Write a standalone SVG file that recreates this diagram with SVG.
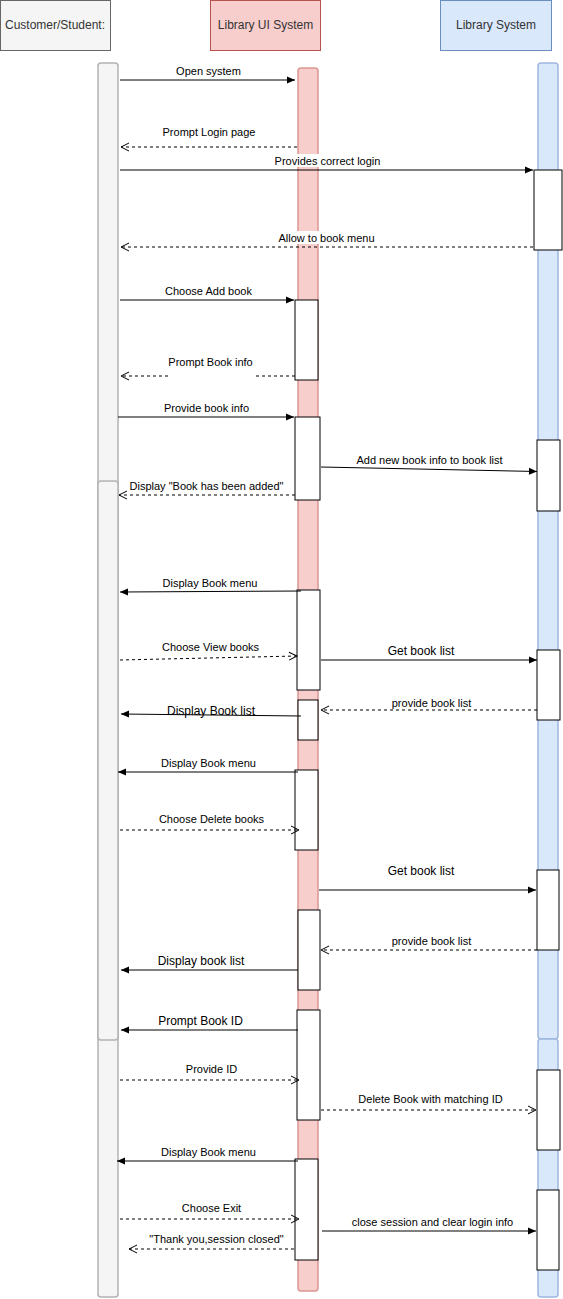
<svg xmlns="http://www.w3.org/2000/svg" width="563" height="1299" viewBox="0 0 563 1299">
<style>
.hdr{font-family:"Liberation Sans",Arial,sans-serif;font-size:12px;fill:#333;text-anchor:middle}
.lbl{font-family:"Liberation Sans",Arial,sans-serif;font-size:11px;fill:#000;text-anchor:middle}
.lbl12{font-family:"Liberation Sans",Arial,sans-serif;font-size:12px;fill:#000;text-anchor:middle}
.act{fill:#fff;stroke:#000;stroke-width:1}
.cust{fill:#f5f5f5;stroke:#666}
.custl{fill:#f5f5f5;stroke:#b3b3b3;stroke-width:1.5}
.ui{fill:#f8cecc;stroke:#b85450}
.uil{fill:#f8cecc;stroke:#d99693;stroke-width:1.5}
.lib{fill:#dae8fc;stroke:#6c8ebf}
.libl{fill:#dae8fc;stroke:#9fb7dd;stroke-width:1.5}
.sync{fill:none;stroke:#000;stroke-width:1;marker-end:url(#block)}
.ret{fill:none;stroke:#000;stroke-width:1;stroke-dasharray:3,3;marker-end:url(#open)}
</style>
<defs>
<marker id="block" markerWidth="10" markerHeight="10" refX="8" refY="4" orient="auto" markerUnits="userSpaceOnUse" overflow="visible">
<path d="M0,0.5 L8,4 L0,7.5 z" fill="#000"/>
</marker>
<marker id="open" markerWidth="10" markerHeight="10" refX="8" refY="4" orient="auto" markerUnits="userSpaceOnUse" overflow="visible">
<path d="M0,0 L8,4 L0,8" fill="none" stroke="#000" stroke-width="1"/>
</marker>
</defs>
<rect width="563" height="1299" fill="#fff"/>

<g id="customer">
<rect class="cust" x="0.5" y="0.5" width="110" height="50"/>
<text class="hdr" x="55" y="29">Customer/Student:</text>
<rect class="custl" x="98" y="63" width="20" height="1234" rx="3"/>
<rect class="custl" x="98" y="481" width="20" height="559" rx="3"/>
</g>
<g id="ui">
<rect class="ui" x="210.5" y="0.5" width="110" height="50"/>
<text class="hdr" x="265.5" y="29">Library UI System</text>
<rect class="uil" x="298" y="68" width="20" height="1223" rx="3"/>
</g>
<g id="library">
<rect class="lib" x="440.5" y="0.5" width="111" height="50"/>
<text class="hdr" x="496" y="29">Library System</text>
<rect class="libl" x="538" y="63" width="20" height="976" rx="3"/>
<rect class="libl" x="538" y="1039" width="20" height="258" rx="3"/>
</g>

<g id="activations">
<rect id="l1" class="act" x="534" y="170" width="28" height="80"/>
<rect id="u1" class="act" x="295" y="300" width="23" height="80"/>
<rect id="u2" class="act" x="295" y="417" width="25" height="83"/>
<rect id="l2" class="act" x="537" y="440" width="23" height="71"/>
<rect id="u3" class="act" x="297" y="590" width="23" height="100"/>
<rect id="l3" class="act" x="537" y="650" width="23" height="70"/>
<rect id="u4" class="act" x="298" y="700" width="20" height="40"/>
<rect id="u5" class="act" x="295" y="770" width="23" height="80"/>
<rect id="l4" class="act" x="537" y="870" width="22" height="80"/>
<rect id="u6" class="act" x="298" y="910" width="22" height="80"/>
<rect id="u7" class="act" x="297" y="1010" width="23" height="110"/>
<rect id="l5" class="act" x="537" y="1070" width="23" height="80"/>
<rect id="u8" class="act" x="295" y="1159" width="23" height="101"/>
<rect id="l6" class="act" x="537" y="1190" width="22" height="80"/>
</g>

<g id="connectors">
<path class="sync" d="M120,80 L295,80"/>
<path class="ret" d="M297,147 L121,147"/>
<path class="sync" d="M120,170 L533,170"/>
<path class="ret" d="M533,247 L121,247"/>
<path class="sync" d="M120,300 L294,300"/>
<path class="ret" d="M295,376 L253,376 M168,376 L121,376"/>
<path class="sync" d="M118,417 L294,417"/>
<path class="sync" d="M321,467 L537,471.5"/>
<path class="ret" d="M295,495 L119,495"/>
<path class="sync" d="M301,591 L120,592"/>
<path class="ret" d="M120,660 L297,656"/>
<path class="sync" d="M321,660 L537,660"/>
<path class="ret" d="M537,710 L321,710"/>
<path class="sync" d="M301,716 L121,714"/>
<path class="sync" d="M298,772 L118,772"/>
<path class="ret" d="M120,830 L299,830"/>
<path class="sync" d="M319,890 L536,890"/>
<path class="ret" d="M537,950 L321,950"/>
<path class="sync" d="M298,970 L121,970"/>
<path class="sync" d="M298,1030 L121,1030"/>
<path class="ret" d="M120,1080 L299,1080"/>
<path class="ret" d="M321,1110 L536,1110"/>
<path class="sync" d="M298,1161 L117,1161"/>
<path class="ret" d="M120,1219 L299,1219"/>
<path class="sync" d="M322,1231 L536,1231"/>
<path class="ret" d="M294,1249 L129,1249"/>
</g>

<g id="labels">
<text class="lbl" x="208.5" y="75">Open system</text>
<text class="lbl" x="209" y="136">Prompt Login page</text>
<rect x="274" y="154" width="107" height="13" fill="#fff"/>
<text class="lbl" x="327.5" y="165">Provides correct login</text>
<rect x="278" y="231" width="97" height="13" fill="#fff"/>
<text class="lbl" x="326.5" y="242">Allow to book menu</text>
<text class="lbl" x="208.5" y="295">Choose Add book</text>
<text class="lbl" x="210.5" y="366">Prompt Book info</text>
<text class="lbl" x="206.5" y="412">Provide book info</text>
<text class="lbl" x="429.5" y="464">Add new book info to book list</text>
<text class="lbl" x="206.5" y="490">Display "Book has been added"</text>
<text class="lbl" x="210" y="587">Display Book menu</text>
<text class="lbl" x="210.5" y="651">Choose View books</text>
<text class="lbl12" x="421" y="655">Get book list</text>
<text class="lbl" x="431.5" y="707">provide book list</text>
<text class="lbl12" x="211" y="715">Display Book list</text>
<text class="lbl" x="208.5" y="767">Display Book menu</text>
<text class="lbl" x="211.5" y="823">Choose Delete books</text>
<text class="lbl12" x="421" y="875">Get book list</text>
<text class="lbl" x="431.5" y="945">provide book list</text>
<text class="lbl12" x="201" y="965">Display book list</text>
<text class="lbl12" x="200.5" y="1025">Prompt Book ID</text>
<text class="lbl" x="211.5" y="1073">Provide ID</text>
<text class="lbl" x="430.5" y="1103">Delete Book with matching ID</text>
<text class="lbl" x="208.5" y="1156">Display Book menu</text>
<text class="lbl" x="211.5" y="1212">Choose Exit</text>
<text class="lbl" x="432.5" y="1226">close session and clear login info</text>
<text class="lbl" x="216.5" y="1243">"Thank you,session closed"</text>
</g>
</svg>
